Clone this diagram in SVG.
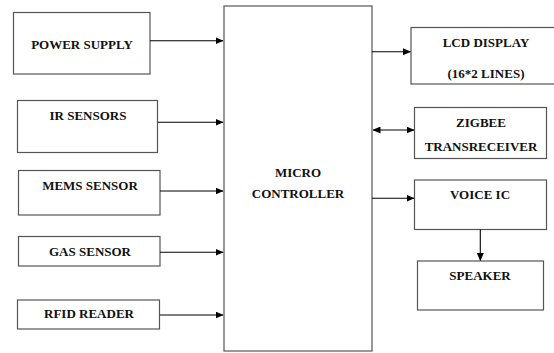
<svg xmlns="http://www.w3.org/2000/svg" width="554" height="353" viewBox="0 0 554 353">
<style>
.box{fill:#fff;stroke:#555;stroke-width:1.2}
.t{font-family:"Liberation Serif",serif;font-weight:bold;font-size:13px;fill:#111;text-anchor:middle}
.c{stroke:#000;stroke-width:1.1;fill:none}
</style>
<defs>
<marker id="ah" markerWidth="8" markerHeight="7" refX="7.5" refY="3.5" orient="auto-start-reverse" markerUnits="userSpaceOnUse">
<path d="M0,0 L8,3.5 L0,7 z" fill="#000"/>
</marker>
</defs>
<rect width="554" height="353" fill="#fff"/>
<g id="mc"><rect class="box" x="224" y="6" width="148" height="345"/>
<text class="t" x="298" y="177">MICRO</text><text class="t" x="298" y="198">CONTROLLER</text></g>
<g id="power"><rect class="box" x="13.5" y="12.5" width="136.5" height="61.5"/><text class="t" x="82" y="49">POWER SUPPLY</text></g>
<g id="ir"><rect class="box" x="17.5" y="100.5" width="140" height="52"/><text class="t" x="88" y="120">IR SENSORS</text></g>
<g id="mems"><rect class="box" x="18.5" y="170.5" width="141.5" height="44.5"/><text class="t" x="90" y="190">MEMS SENSOR</text></g>
<g id="gas"><rect class="box" x="18.5" y="236.5" width="141.5" height="29.5"/><text class="t" x="90" y="255.5">GAS SENSOR</text></g>
<g id="rfid"><rect class="box" x="17.5" y="300" width="142" height="29"/><text class="t" x="89" y="318">RFID READER</text></g>
<g id="lcd"><rect class="box" x="411" y="27.5" width="145" height="56.5"/><text class="t" x="486" y="46.5">LCD DISPLAY</text><text class="t" x="486" y="77.5">(16*2 LINES)</text></g>
<g id="zigbee"><rect class="box" x="414.5" y="107.5" width="132" height="51"/><text class="t" x="481" y="126.5">ZIGBEE</text><text class="t" x="481" y="151">TRANSRECEIVER</text></g>
<g id="voice"><rect class="box" x="414.5" y="180" width="132" height="49.5"/><text class="t" x="480" y="198.5">VOICE IC</text></g>
<g id="speaker"><rect class="box" x="417.5" y="261" width="126" height="49"/><text class="t" x="480" y="279.5">SPEAKER</text></g>
<g id="connectors">
<line class="c" x1="150" y1="40.7" x2="223" y2="40.7" marker-end="url(#ah)"/>
<line class="c" x1="158" y1="122.3" x2="223" y2="122.3" marker-end="url(#ah)"/>
<line class="c" x1="160" y1="191" x2="223" y2="191" marker-end="url(#ah)"/>
<line class="c" x1="160" y1="252.3" x2="223" y2="252.3" marker-end="url(#ah)"/>
<line class="c" x1="160" y1="315" x2="223" y2="315" marker-end="url(#ah)"/>
<line class="c" x1="372" y1="51.7" x2="410.5" y2="51.7" marker-end="url(#ah)"/>
<line class="c" x1="373" y1="130" x2="414" y2="130" marker-start="url(#ah)" marker-end="url(#ah)"/>
<line class="c" x1="372" y1="198.3" x2="414" y2="198.3" marker-end="url(#ah)"/>
<line class="c" x1="480.3" y1="229.5" x2="480.3" y2="260.5" marker-end="url(#ah)"/>
</g>
</svg>
